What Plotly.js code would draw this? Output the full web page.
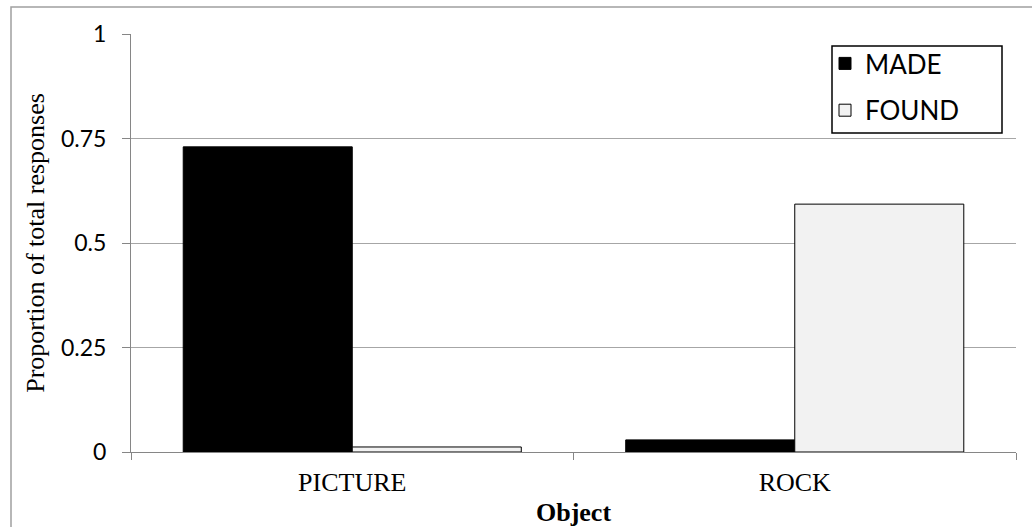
<!DOCTYPE html>
<html>
<head>
<meta charset="utf-8">
<script src="https://cdn.plot.ly/plotly-3.0.1.min.js"></script>
<style>
  html, body { margin: 0; padding: 0; background: #ffffff; }
  #chart { width: 1032px; height: 527px; }
</style>
</head>
<body>
<div id="chart"></div>
<script>
// Objects and the share of responses classed as made vs found
const categories = ["PICTURE", "ROCK"];
const madeValues = [0.73, 0.029];
const foundValues = [0.012, 0.593];
const yTickValues = [0, 0.25, 0.5, 0.75, 1];
const yTickLabels = ["0", "0.25", "0.5", "0.75", "1"];

const serif = "'Liberation Serif', 'Times New Roman', serif";
const sans = "Lato, 'Open Sans', sans-serif";

const traces = [
  {
    type: "bar",
    name: "MADE",
    legendgroup: "made",
    x: categories,
    y: madeValues,
    marker: { color: "#000000", line: { color: "#000000", width: 1 } }
  },
  {
    type: "bar",
    name: "FOUND",
    legendgroup: "found",
    x: categories,
    y: foundValues,
    marker: { color: "#f2f2f2", line: { color: "#000000", width: 1 } }
  }
];

const W = 1032, H = 527;
const L = 131, R = 1016, T = 34, B = 452;
// pixel helpers for paper-referenced decoration (frame, legend box)
const px = v => (v - L) / (R - L);
const py = v => (B - v) / (B - T);

const layout = {
  width: W,
  height: H,
  paper_bgcolor: "#ffffff",
  plot_bgcolor: "#ffffff",
  margin: { l: L, r: W - R, t: T, b: H - B },
  barmode: "group",
  bargap: 0.236,
  bargroupgap: 0,
  showlegend: true,
  legend: {
    x: px(825), xanchor: "left",
    y: py(40), yanchor: "top",
    bgcolor: "rgba(0,0,0,0)",
    borderwidth: 0,
    font: { family: sans, size: 26, color: "#000000" },
    itemwidth: 30,
    traceorder: "grouped",
    tracegroupgap: 10
  },
  xaxis: {
    type: "category",
    showgrid: false,
    showline: true,
    linecolor: "#868686",
    linewidth: 1,
    ticks: "outside",
    tickson: "boundaries",
    ticklen: 7,
    tickcolor: "#868686",
    ticklabelstandoff: 7,
    tickfont: { family: serif, size: 26, color: "#000000" },
    title: {
      text: "<b>Object</b>",
      font: { family: serif, size: 26, color: "#000000" },
      standoff: 6
    },
    fixedrange: true
  },
  yaxis: {
    range: [0, 1],
    tickvals: yTickValues,
    ticktext: yTickLabels,
    showgrid: true,
    gridcolor: "#a6a6a6",
    gridwidth: 1,
    zeroline: false,
    showline: true,
    linecolor: "#868686",
    linewidth: 1,
    ticks: "outside",
    ticklen: 8,
    tickcolor: "#868686",
    ticklabelstandoff: 11,
    tickfont: { family: sans, size: 23, color: "#000000" },
    title: {
      text: "Proportion of total responses",
      font: { family: serif, size: 26, color: "#000000" },
      standoff: 8
    },
    fixedrange: true
  },
  shapes: [
    // outer chart frame
    {
      type: "rect",
      xref: "paper", yref: "paper",
      x0: px(11), x1: px(1045),
      y0: py(545), y1: py(7),
      line: { color: "#a0a0a0", width: 1.5 },
      fillcolor: "rgba(0,0,0,0)",
      layer: "below"
    },
    // legend box
    {
      type: "rect",
      xref: "paper", yref: "paper",
      x0: px(832), x1: px(1002),
      y0: py(133), y1: py(46),
      line: { color: "#000000", width: 1.5 },
      fillcolor: "#ffffff",
      layer: "above"
    }
  ]
};

Plotly.newPlot("chart", traces, layout, { staticPlot: true, displayModeBar: false });
</script>
</body>
</html>
